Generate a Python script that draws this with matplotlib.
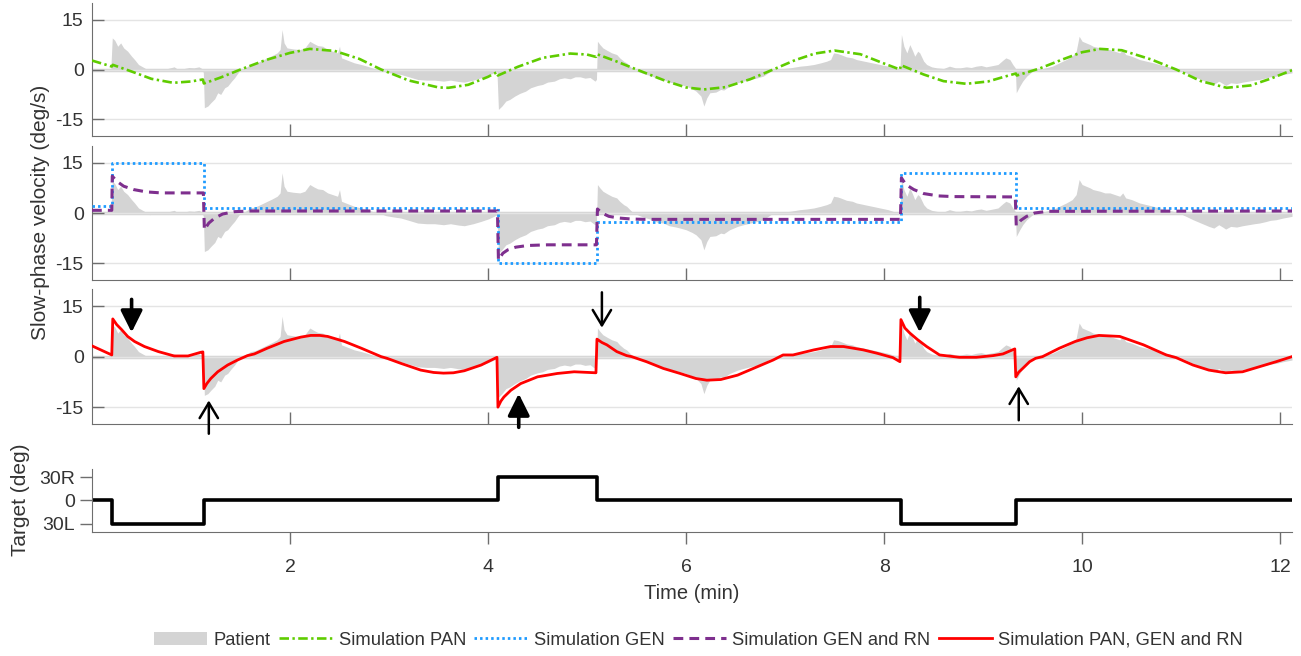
import numpy as np
import matplotlib
matplotlib.use('Agg')
import matplotlib.pyplot as plt
from matplotlib.patches import Patch
from matplotlib.lines import Line2D

plt.rcParams['font.family'] = ['Liberation Sans', 'DejaVu Sans']
plt.rcParams['axes.unicode_minus'] = False

# ---- data ----
# patient slow-phase velocity (deg/s), same trace in the three top panels
pat_t = [0.00, 0.19, 0.205, 0.23, 0.26, 0.29, 0.32, 0.36, 0.40, 0.43, 0.47, 0.53, 0.58, 0.62,
         0.68, 0.75, 0.83, 0.86, 0.93, 0.98, 1.03, 1.08, 1.11, 1.125, 1.135, 1.17, 1.20, 1.24,
         1.27, 1.30, 1.34, 1.37, 1.41, 1.44, 1.47, 1.50, 1.55, 1.60, 1.65, 1.70, 1.77, 1.82,
         1.87, 1.90, 1.92, 1.94, 1.97, 2.03, 2.10, 2.15, 2.20, 2.24, 2.28, 2.33, 2.38, 2.43,
         2.48, 2.50, 2.52, 2.58, 2.65, 2.72, 2.78, 2.85, 2.90, 2.97, 3.05, 3.12, 3.20, 3.29,
         3.38, 3.46, 3.55, 3.62, 3.70, 3.76, 3.85, 3.93, 4.00, 4.06, 4.09, 4.105, 4.14, 4.18,
         4.22, 4.27, 4.32, 4.38, 4.43, 4.50, 4.55, 4.60, 4.67, 4.72, 4.77, 4.83, 4.88, 4.93,
         4.98, 5.03, 5.08, 5.095, 5.105, 5.13, 5.16, 5.20, 5.25, 5.30, 5.33, 5.37, 5.40, 5.44,
         5.47, 5.53, 5.60, 5.66, 5.71, 5.77, 5.83, 5.90, 5.94, 6.00, 6.06, 6.10, 6.15, 6.18,
         6.21, 6.24, 6.30, 6.35, 6.38, 6.44, 6.52, 6.58, 6.65, 6.72, 6.78, 6.83, 6.88, 6.95,
         7.05, 7.15, 7.22, 7.29, 7.36, 7.42, 7.46, 7.49, 7.53, 7.56, 7.62, 7.68, 7.72, 7.80,
         7.88, 7.96, 8.04, 8.09, 8.16, 8.175, 8.20, 8.23, 8.26, 8.29, 8.31, 8.34, 8.36, 8.40,
         8.43, 8.48, 8.53, 8.60, 8.66, 8.72, 8.77, 8.83, 8.88, 8.93, 8.98, 9.03, 9.10, 9.15,
         9.20, 9.23, 9.27, 9.30, 9.325, 9.335, 9.37, 9.40, 9.44, 9.50, 9.57, 9.63, 9.70, 9.77,
         9.84, 9.90, 9.94, 9.97, 10.00, 10.04, 10.08, 10.11, 10.18, 10.23, 10.28, 10.33, 10.38,
         10.41, 10.44, 10.50, 10.58, 10.65, 10.72, 10.78, 10.85, 10.92, 10.98, 11.05, 11.12,
         11.20, 11.28, 11.33, 11.38, 11.42, 11.45, 11.50, 11.56, 11.62, 11.68, 11.74, 11.79,
         11.85, 11.90, 11.96, 12.03, 12.12]
pat_v = [0.0, 0.0, 9.5, 8.8, 7.0, 8.0, 6.5, 5.5, 4.0, 3.0, 1.5, 0.5, -0.5, -0.3,
         0.3, 0.2, 0.8, 0.2, 0.3, 0.6, 0.5, 0.8, 0.3, -1.0, -11.5, -11.0, -10.0, -8.8,
         -7.0, -7.5, -5.5, -5.0, -3.5, -2.5, -1.2, 0.0, 0.5, 1.5, 1.8, 2.5, 3.5, 4.2,
         5.0, 6.0, 12.0, 8.0, 6.5, 6.2, 6.0, 6.5, 8.5, 7.8, 7.2, 7.0, 6.0, 5.5,
         5.0, 7.0, 3.5, 2.8, 2.0, 1.5, 1.0, 0.3, 0.0, -0.8, -1.2, -1.5, -2.2, -3.0,
         -3.2, -3.2, -3.5, -3.2, -3.6, -3.8, -3.2, -2.5, -1.8, -1.0, -0.5, -12.0, -11.0, -9.5,
         -9.0, -8.0, -7.2, -6.5, -5.5, -4.8, -4.5, -3.8, -3.5, -2.8, -2.5, -2.8, -2.2, -2.2,
         -2.6, -2.4, -3.5, -3.0, 8.5, 7.5, 6.5, 5.8, 5.0, 4.5, 3.5, 2.5, 2.0, 0.8,
         0.0, -0.8, -1.5, -2.0, -2.8, -3.0, -3.8, -4.2, -4.5, -5.0, -5.8, -6.5, -8.0, -11.0,
         -8.5, -7.0, -6.8, -6.0, -6.2, -5.0, -4.0, -3.5, -3.0, -2.5, -2.0, -1.0, 0.0, 0.2,
         0.5, 1.0, 1.2, 1.5, 2.0, 2.5, 3.0, 5.0, 4.8, 4.5, 3.8, 3.5, 3.0, 2.5,
         2.0, 1.5, 1.0, 0.5, 0.0, 10.5, 7.0, 5.0, 7.5, 5.5, 4.0, 5.5, 5.0, 2.5,
         1.5, 0.8, 0.5, 0.3, 1.0, 0.5, 0.5, 0.8, 0.6, 1.0, 1.2, 0.8, 1.2, 1.5,
         2.8, 3.5, 3.0, 1.5, 0.5, -7.0, -5.0, -3.5, -2.0, -0.5, 0.0, 0.5, 1.0, 2.0,
         3.0, 4.0, 5.5, 10.0, 8.5, 8.0, 7.5, 7.0, 6.5, 6.0, 6.0, 5.5, 5.0,
         6.0, 4.5, 4.0, 3.0, 2.5, 2.0, 1.5, 1.0, 0.5, 0.0, -1.0, -2.0,
         -3.0, -4.0, -4.5, -3.5, -4.2, -4.8, -4.0, -4.2, -3.8, -3.5, -3.2, -3.0,
         -2.6, -2.2, -2.0, -1.5, -1.0]

# simulation PAN
pan_t = [0.0, 0.2, 0.21, 0.4, 0.6, 0.82, 1.0, 1.12, 1.13, 1.3, 1.5, 1.75, 2.0, 2.2, 2.45,
         2.7, 2.92, 3.2, 3.5, 3.6, 3.8, 4.0, 4.09, 4.1, 4.3, 4.55, 4.83, 5.0, 5.09, 5.1,
         5.3, 5.5, 5.8, 6.0, 6.18, 6.4, 6.65, 6.88, 7.1, 7.3, 7.5, 7.76, 8.0, 8.16, 8.17,
         8.4, 8.6, 8.83, 9.05, 9.2, 9.33, 9.34, 9.57, 9.8, 10.0, 10.18, 10.4, 10.7, 10.95,
         11.2, 11.46, 11.7, 11.9, 12.12]
pan_v = [2.7, 0.9, 1.4, -0.6, -2.8, -4.0, -3.6, -3.0, -4.2, -2.4, 0.0, 2.8, 5.0, 6.2, 5.6,
         3.2, 0.0, -3.3, -5.4, -5.5, -4.6, -2.2, -0.8, -1.8, 0.8, 3.5, 4.8, 4.5, 3.8, 4.6,
         2.4, 0.0, -3.5, -5.4, -6.0, -5.3, -2.9, 0.0, 2.8, 4.8, 5.7, 4.6, 1.8, 0.0, 1.3,
         -1.5, -3.5, -4.3, -3.6, -2.3, -1.2, -1.8, 0.3, 3.0, 5.2, 6.2, 5.8, 3.0, 0.0,
         -3.5, -5.5, -4.8, -2.8, -0.2]

# simulation GEN
gen_t = [0.0, 0.2, 0.2, 1.13, 1.13, 4.1, 4.1, 5.1, 5.1, 8.17, 8.17, 9.33, 9.33, 12.12]
gen_v = [2.2, 2.2, 14.8, 14.8, 1.5, 1.5, -15.0, -15.0, -2.8, -2.8, 12.0, 12.0, 1.5, 1.5]

# simulation GEN and RN
genrn_t = [0.0, 0.2, 0.205, 0.25, 0.32, 0.42, 0.55, 0.7, 1.125, 1.135, 1.18, 1.24, 1.32, 1.44,
           1.6, 4.095, 4.105, 4.15, 4.2, 4.28, 4.4, 4.6, 5.095, 5.105, 5.15, 5.22, 5.32, 5.45,
           5.6, 8.165, 8.175, 8.22, 8.3, 8.4, 8.55, 8.7, 9.325, 9.335, 9.38, 9.44, 9.52, 9.65,
           12.12]
genrn_v = [0.8, 0.8, 11.0, 9.5, 8.0, 7.0, 6.3, 6.0, 6.0, -5.0, -3.0, -1.5, -0.3, 0.4,
           0.6, 0.6, -14.0, -12.0, -11.0, -10.2, -9.7, -9.5, -9.5, 1.2, 0.0, -1.0, -1.5, -1.8,
           -1.9, -1.9, 10.5, 8.5, 7.0, 5.8, 5.1, 4.9, 4.8, -3.8, -2.2, -1.0, 0.0, 0.5,
           0.6]

# simulation PAN, GEN and RN
full_t = [0.0, 0.2, 0.21, 0.25, 0.3, 0.36, 0.43, 0.53, 0.67, 0.83, 0.97, 1.1, 1.12, 1.13, 1.16,
          1.2, 1.27, 1.37, 1.47, 1.57, 1.64, 1.77, 1.94, 2.11, 2.21, 2.3, 2.38, 2.55, 2.72,
          2.92, 2.98, 3.12, 3.32, 3.45, 3.55, 3.65, 3.76, 3.93, 4.09, 4.1, 4.13, 4.16, 4.23,
          4.33, 4.5, 4.7, 4.87, 5.09, 5.1, 5.15, 5.2, 5.3, 5.4, 5.45, 5.6, 5.77, 5.94, 6.1,
          6.21, 6.35, 6.52, 6.72, 6.88, 6.98, 7.08, 7.29, 7.46, 7.59, 7.79, 7.93, 8.09, 8.16,
          8.17, 8.21, 8.26, 8.34, 8.43, 8.56, 8.76, 8.93, 9.1, 9.2, 9.32, 9.33, 9.36, 9.4,
          9.47, 9.53, 9.6, 9.77, 9.93, 10.05, 10.17, 10.38, 10.62, 10.85, 10.95, 11.12, 11.28,
          11.45, 11.62, 11.79, 11.96, 12.12]
full_v = [3.2, 0.5, 11.2, 9.5, 8.0, 6.0, 4.5, 3.0, 1.5, 0.2, 0.2, 1.3, 1.4, -9.5, -8.0,
          -6.5, -4.5, -2.5, -1.0, 0.3, 0.8, 2.5, 4.5, 5.8, 6.3, 6.3, 6.0, 4.5, 2.5,
          0.0, -0.5, -2.0, -4.0, -4.7, -4.9, -4.8, -4.2, -2.5, -0.2, -15.0, -13.2, -12.0, -10.0,
          -8.0, -6.0, -5.0, -4.5, -4.8, 5.2, 4.2, 3.5, 1.5, 0.3, 0.0, -1.5, -3.5, -5.0, -6.5,
          -7.0, -6.8, -5.5, -3.0, -1.0, 0.5, 0.5, 2.0, 3.0, 3.0, 2.0, 1.0, -0.3, -1.5,
          11.0, 8.5, 7.0, 5.0, 3.0, 0.5, -0.2, -0.2, 0.3, 0.8, 2.3, -6.0, -4.6, -3.5,
          -1.5, -0.5, 0.0, 2.5, 4.5, 5.6, 6.3, 6.0, 3.5, 0.5, -0.3, -2.5, -4.0,
          -4.8, -4.5, -3.0, -1.5, 0.0]

# target position (deg, + = right)
target_t = [0.0, 0.2, 0.2, 1.13, 1.13, 4.1, 4.1, 5.1, 5.1, 8.17, 8.17, 9.33, 9.33, 12.12]
target_v = [0, 0, -30, -30, 0, 0, 30, 30, 0, 0, -30, -30, 0, 0]

# arrows in the third panel: (x, tail_y, head_y, thick)
arrows = [(0.40, 17.0, 7.2, True), (1.18, -22.9, -13.0, False), (4.31, -21.0, -11.0, True),
          (5.15, 19.1, 8.6, False), (8.36, 17.6, 7.2, True), (9.36, -18.9, -8.8, False)]

vel_ticks = [-15, 0, 15]
time_ticks = [2, 4, 6, 8, 10, 12]
target_ticks = [-30, 0, 30]
target_labels = ['30L', '0', '30R']

# ---- style ----
GRAY = '#d4d4d4'
GREEN = '#5fcc00'
BLUE = '#1e9bff'
PURPLE = '#7e2f8e'
RED = '#ff0000'
SPINE = '#6e6e6e'
TXT = '#333333'
XMAX = 12.12
PAN_LS = (0, (3.6, 1.3, 0.9, 1.3))
GEN_LS = (0, (0.9, 1.1))
GENRN_LS = (0, (3.2, 2.0))

fig = plt.figure(figsize=(13.01, 6.56), dpi=100)
left, width = 0.0707, 0.9224
ax1 = fig.add_axes([left, 0.7927, width, 0.2027])
ax2 = fig.add_axes([left, 0.5732, width, 0.2042])
ax3 = fig.add_axes([left, 0.3537, width, 0.2053])
ax4 = fig.add_axes([left, 0.1895, width, 0.0951])

for ax in (ax1, ax2, ax3):
    ax.fill_between(pat_t, 0, pat_v, color=GRAY, lw=0, zorder=1)
    ax.axhline(0, color=GRAY, lw=2.5, zorder=1)
    ax.set_xlim(0, XMAX)
    ax.set_ylim(-20, 20)
    ax.set_yticks(vel_ticks)
    ax.set_xticks(time_ticks)
    ax.set_xticklabels([])
    ax.grid(axis='y', color='#e4e4e4', lw=1, zorder=0)
    ax.tick_params(direction='in', length=8.5, width=1, color=SPINE,
                   labelsize=14, labelcolor=TXT, pad=6)
    for s in ('top', 'right'):
        ax.spines[s].set_visible(False)
    for s in ('left', 'bottom'):
        ax.spines[s].set_color(SPINE)

ax1.plot(pan_t, pan_v, color=GREEN, lw=1.9, ls=PAN_LS, zorder=3)
ax2.plot(gen_t, gen_v, color=BLUE, lw=2.0, ls=GEN_LS, zorder=3)
ax2.plot(genrn_t, genrn_v, color=PURPLE, lw=2.2, ls=GENRN_LS, zorder=4)
ax3.plot(full_t, full_v, color=RED, lw=2.0, zorder=3)

for x, y0, y1, thick in arrows:
    if thick:
        props = dict(arrowstyle='-|>,head_length=0.6,head_width=0.3', lw=2.6, color='k',
                     mutation_scale=22, shrinkA=0, shrinkB=0)
    else:
        props = dict(arrowstyle='->,head_length=0.5,head_width=0.3', lw=1.8, color='k',
                     mutation_scale=22, shrinkA=0, shrinkB=0)
    ax3.annotate('', xy=(x, y1), xytext=(x, y0), arrowprops=props, annotation_clip=False)

ax4.plot(target_t, target_v, color='k', lw=2.6)
ax4.set_xlim(0, XMAX)
ax4.set_ylim(-40, 40)
ax4.set_yticks(target_ticks)
ax4.set_yticklabels(target_labels)
ax4.set_xticks(time_ticks)
ax4.tick_params(direction='out', length=8.5, width=1, color=SPINE,
                labelsize=14, labelcolor=TXT)
ax4.tick_params(axis='x', pad=11)
for s in ('top', 'right'):
    ax4.spines[s].set_visible(False)
for s in ('left', 'bottom'):
    ax4.spines[s].set_color(SPINE)
ax4.set_xlabel('Time (min)', fontsize=14.5, color=TXT, labelpad=6)

fig.text(0.031, 0.676, 'Slow-phase velocity (deg/s)', rotation=90, ha='center', va='center',
         fontsize=15, color=TXT)
fig.text(0.0154, 0.2378, 'Target (deg)', rotation=90, ha='center', va='center',
         fontsize=15, color=TXT)

handles = [Patch(facecolor=GRAY, edgecolor='none'),
           Line2D([], [], color=GREEN, lw=1.9, ls=PAN_LS),
           Line2D([], [], color=BLUE, lw=2.0, ls=GEN_LS),
           Line2D([], [], color=PURPLE, lw=2.2, ls=GENRN_LS),
           Line2D([], [], color=RED, lw=2.0)]
labels = ['Patient', 'Simulation PAN', 'Simulation GEN', 'Simulation GEN and RN',
          'Simulation PAN, GEN and RN']
leg = fig.legend(handles, labels, loc='center', bbox_to_anchor=(0.537, 0.024), ncol=5,
                 frameon=False, fontsize=13.2, handlelength=2.9, handletextpad=0.35,
                 columnspacing=0.45)
for t in leg.get_texts():
    t.set_color(TXT)

fig.savefig('out.png', dpi=100)
